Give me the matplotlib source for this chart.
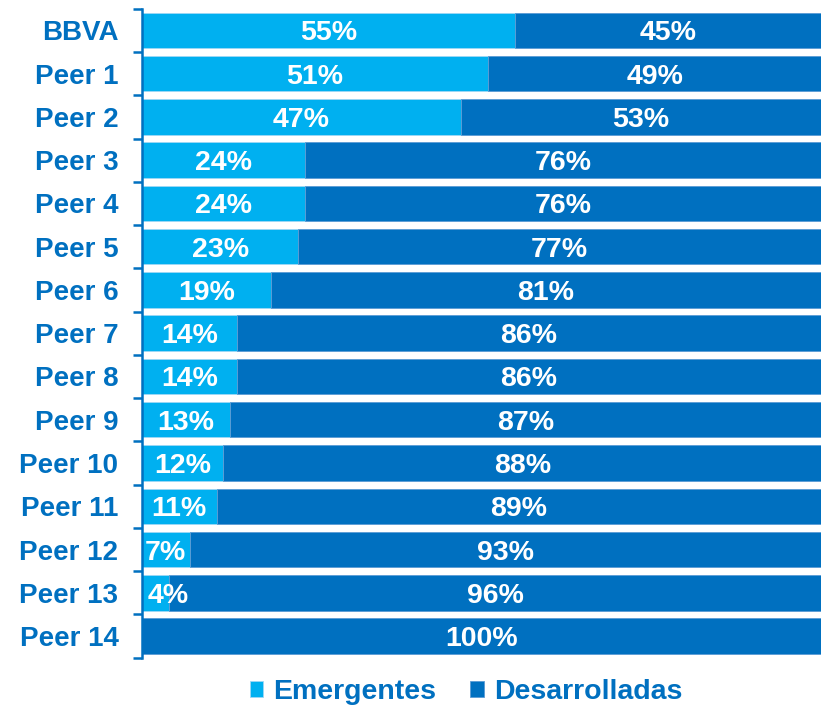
import matplotlib.pyplot as plt
import numpy as np

plt.rcParams['font.family'] = ['Liberation Sans', 'DejaVu Sans']

LIGHT, DARK = '#00B0F0', '#0070C0'

entities = ['BBVA', 'Peer 1', 'Peer 2', 'Peer 3', 'Peer 4', 'Peer 5', 'Peer 6',
            'Peer 7', 'Peer 8', 'Peer 9', 'Peer 10', 'Peer 11', 'Peer 12',
            'Peer 13', 'Peer 14']
emergentes = [55, 51, 47, 24, 24, 23, 19, 14, 14, 13, 12, 11, 7, 4, 0]
desarrolladas = [45, 49, 53, 76, 76, 77, 81, 86, 86, 87, 88, 89, 93, 96, 100]

fig = plt.figure(figsize=(8.23, 7.08), dpi=100)
ax = fig.add_axes([142 / 823, 1 - 657.7 / 708, 679 / 823, 649 / 708])

y = np.arange(len(entities))
ax.barh(y, emergentes, height=0.82, color=LIGHT, label='Emergentes',
        edgecolor='#9fd8f5', linewidth=0.6)
ax.barh(y, desarrolladas, left=emergentes, height=0.82, color=DARK,
        label='Desarrolladas', edgecolor='#5a9bd5', linewidth=0.6)

lab = dict(color='white', fontsize=20.5, fontweight='bold', va='center_baseline')
for i, (e, d) in enumerate(zip(emergentes, desarrolladas)):
    if e > 0:
        if e < 6:
            ax.text(0.8, i, f'{e}%', ha='left', **lab)
        else:
            ax.text(e / 2, i, f'{e}%', ha='center', **lab)
    ax.text(e + d / 2, i, f'{d}%', ha='center', **lab)

ax.set_xlim(0, 100)
ax.set_ylim(len(entities) - 0.5, -0.5)
ax.set_yticks(y)
ax.set_yticklabels(entities, fontsize=20, fontweight='bold', color=DARK)
ax.set_yticks(np.arange(-0.5, len(entities)), minor=True)
ax.tick_params(axis='y', which='major', length=0, pad=17)
ax.tick_params(axis='y', which='minor', length=6.5, width=1.8, color=DARK)
ax.set_xticks([])
for s in ['top', 'right', 'bottom']:
    ax.spines[s].set_visible(False)
ax.spines['left'].set_color(DARK)
ax.spines['left'].set_linewidth(1.8)

fig.legend(loc='center', bbox_to_anchor=(466 / 823, 1 - 692 / 708), ncol=2,
           frameon=False, handlelength=0.47, handleheight=0.47,
           handletextpad=0.35, columnspacing=1.2,
           prop={'size': 20.5, 'weight': 'bold'}, labelcolor=DARK)

fig.savefig('out.png', dpi=100)
